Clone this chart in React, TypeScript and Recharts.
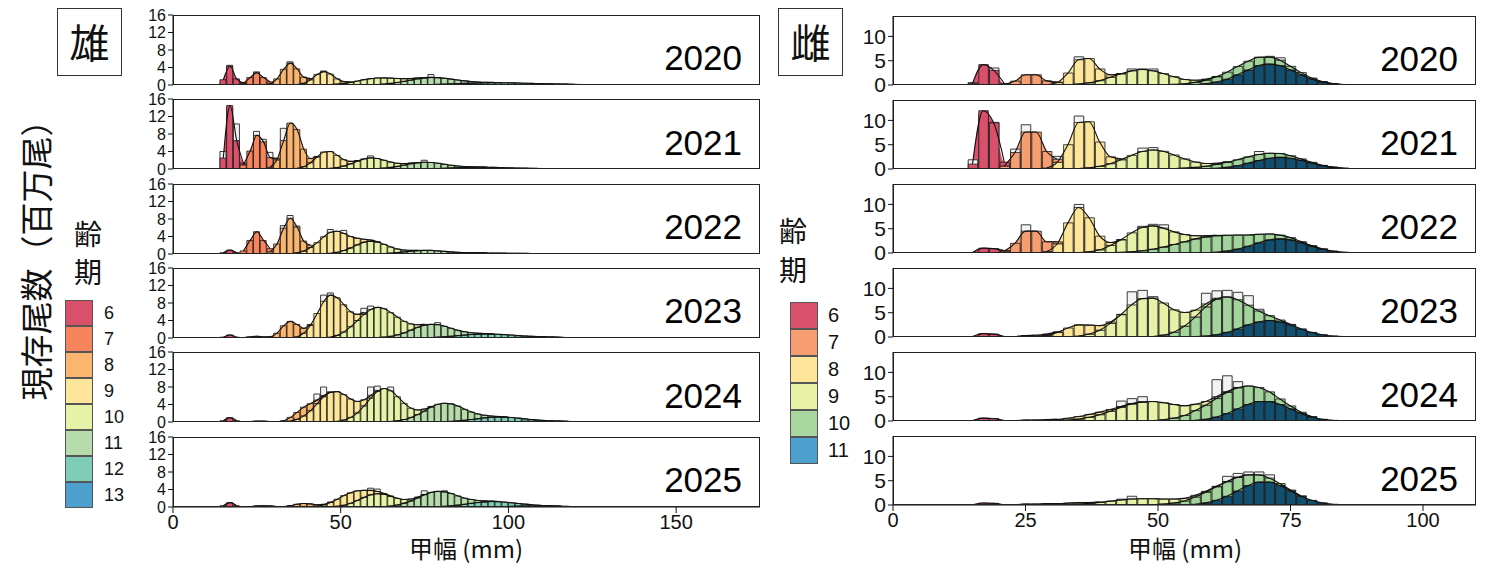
import React from 'react';
import { ComposedChart, Area, Bar, Line, XAxis, YAxis } from 'recharts';

// instar labels + colours (legend) and plot fills
const MALE_INSTARS = ['6', '7', '8', '9', '10', '11', '12', '13'];
const FEMALE_INSTARS = ['6', '7', '8', '9', '10', '11'];
const MALE_COLORS = ['#d9506a', '#f6845c', '#fbb56f', '#fde59a', '#e7f1a7', '#b7dcab', '#80cdb7', '#4d9fce'];
const FEMALE_COLORS = ['#d9506a', '#f69e72', '#fde59a', '#e7f1a7', '#a8d8a0', '#4d9fce'];
const FEMALE_FILLS = ['#d9506a', '#f69e72', '#fde59a', '#e7f1a7', '#a3d49b', '#124e6e'];
const YEARS = ['2020', '2021', '2022', '2023', '2024', '2025'];

const MALE_X_TICKS = [0, 50, 100, 150];
const FEMALE_X_TICKS = [0, 25, 50, 75, 100];
const MALE_Y_TICKS = [0, 4, 8, 12, 16];
const FEMALE_Y_TICKS = [0, 5, 10];

// each component: [first bin centre (mm), counts per 2 mm bin...], instar 6 first
const M2020 = [
  [15, 1.2, 4.3, 1.4, 0.1],
  [21, 0.4, 1.7, 2.8, 1.7, 0.4],
  [29, 0.3, 1.4, 3.6, 5.0, 3.6, 1.4, 0.3],
  [37, 0.1, 0.4, 1.2, 2.4, 3.0, 2.4, 1.2, 0.4, 0.1],
  [43, 0.02, 0.05, 0.1, 0.2, 0.37, 0.6, 0.9, 1.2, 1.4, 1.5, 1.4, 1.2, 0.9, 0.6, 0.37, 0.2, 0.1, 0.05, 0.02],
  [57, 0.03, 0.06, 0.11, 0.22, 0.37, 0.58, 0.83, 1.1, 1.36, 1.54, 1.6, 1.54, 1.36, 1.1, 0.83, 0.58, 0.37, 0.22, 0.11, 0.06, 0.03],
  [67, 0.01, 0.02, 0.03, 0.05, 0.07, 0.1, 0.14, 0.19, 0.25, 0.3, 0.37, 0.42, 0.46, 0.49, 0.5, 0.49, 0.46, 0.42, 0.37, 0.3, 0.25, 0.19, 0.14, 0.1, 0.07, 0.05, 0.03, 0.02, 0.01],
  [89, 0.01, 0.01, 0.02, 0.03, 0.04, 0.06, 0.07, 0.09, 0.11, 0.13, 0.14, 0.15, 0.15, 0.15, 0.14, 0.13, 0.11, 0.09, 0.07, 0.06, 0.05, 0.04, 0.03, 0.02, 0.02, 0.01, 0.01],
];
const M2020_OBS = [[15, 0.6], [17, 4.5], [25, 3.0], [35, 5.3], [45, 3.2], [77, 2.4]];

const M2021 = [
  [15, 2.5, 14.5, 6.5, 0.4],
  [21, 0.95, 4.1, 7.7, 6.2, 2.2, 0.35],
  [29, 0.4, 2.1, 6.5, 10.5, 8.9, 4.0, 0.95, 0.1],
  [37, 0.15, 0.54, 1.44, 2.76, 3.84, 3.84, 2.76, 1.44, 0.54, 0.15],
  [45, 0.05, 0.15, 0.35, 0.7, 1.2, 1.8, 2.3, 2.5, 2.3, 1.8, 1.2, 0.7, 0.35, 0.15, 0.05],
  [57, 0.02, 0.05, 0.1, 0.2, 0.37, 0.6, 0.9, 1.2, 1.4, 1.5, 1.4, 1.2, 0.9, 0.6, 0.37, 0.2, 0.1, 0.05, 0.02],
  [69, 0.01, 0.02, 0.03, 0.05, 0.09, 0.13, 0.18, 0.24, 0.3, 0.35, 0.39, 0.4, 0.39, 0.35, 0.3, 0.24, 0.18, 0.13, 0.09, 0.05, 0.03, 0.02, 0.01],
  [89, 0.01, 0.01, 0.02, 0.03, 0.05, 0.06, 0.07, 0.09, 0.1, 0.1, 0.1, 0.09, 0.07, 0.06, 0.05, 0.04, 0.03, 0.02, 0.02, 0.01, 0.01],
];
const M2021_OBS = [[15, 4.0], [17, 14.0], [19, 10.3], [25, 8.6], [27, 6.8], [29, 3.8], [33, 9.3], [35, 10.4], [59, 3.0], [75, 2.0]];

const M2022 = [
  [15, 0.3, 0.9, 0.3],
  [21, 0.7, 3.1, 5.1, 3.1, 0.7],
  [29, 0.5, 2.3, 5.9, 8.1, 5.9, 2.3, 0.5],
  [35, 0.07, 0.25, 0.66, 1.5, 2.6, 3.9, 4.8, 4.8, 3.9, 2.6, 1.5, 0.66, 0.25, 0.07],
  [45, 0.06, 0.17, 0.4, 0.8, 1.4, 2.1, 2.7, 2.9, 2.7, 2.1, 1.4, 0.8, 0.4, 0.17, 0.06],
  [57, 0.01, 0.02, 0.05, 0.11, 0.2, 0.33, 0.49, 0.64, 0.76, 0.8, 0.76, 0.64, 0.49, 0.33, 0.2, 0.11, 0.05, 0.02, 0.01],
  [69, 0.01, 0.01, 0.02, 0.03, 0.06, 0.08, 0.12, 0.15, 0.19, 0.22, 0.24, 0.25, 0.24, 0.22, 0.19, 0.15, 0.12, 0.08, 0.06, 0.03, 0.02, 0.01, 0.01],
  [95, 0.01, 0.02, 0.04, 0.06, 0.08, 0.08, 0.08, 0.07, 0.06, 0.05, 0.04, 0.03, 0.02, 0.01],
];
const M2022_OBS = [[33, 6.5], [35, 8.8], [37, 6.4], [47, 5.6], [51, 5.4]];

const M2023 = [
  [15, 0.2, 0.7, 0.2],
  [21, 0.1, 0.25, 0.4, 0.25, 0.1],
  [29, 0.2, 1.1, 2.8, 3.8, 2.8, 1.1, 0.2],
  [37, 0.3, 1.1, 2.9, 5.6, 8.4, 9.6, 8.6, 6.2, 3.4, 1.4, 0.4],
  [47, 0.2, 0.6, 1.4, 2.6, 4.0, 5.4, 6.5, 6.9, 6.5, 5.4, 4.0, 2.6, 1.4, 0.6, 0.2],
  [59, 0.03, 0.09, 0.2, 0.4, 0.75, 1.2, 1.8, 2.4, 2.85, 3.0, 2.85, 2.4, 1.8, 1.2, 0.75, 0.4, 0.2, 0.09, 0.03],
  [71, 0.02, 0.04, 0.07, 0.12, 0.2, 0.29, 0.41, 0.55, 0.68, 0.79, 0.87, 0.9, 0.87, 0.79, 0.68, 0.55, 0.41, 0.29, 0.2, 0.12, 0.07, 0.04, 0.02],
  [89, 0.01, 0.02, 0.03, 0.04, 0.06, 0.09, 0.12, 0.15, 0.18, 0.19, 0.2, 0.19, 0.18, 0.15, 0.12, 0.09, 0.07, 0.05, 0.04, 0.03, 0.02, 0.01],
];
const M2023_OBS = [[45, 9.8], [47, 10.3], [49, 9.0], [57, 6.8], [59, 7.3], [79, 3.5]];

const M2024 = [
  [15, 0.3, 1.0, 0.3],
  [23, 0.1, 0.2, 0.2, 0.1],
  [31, 0.06, 0.28, 0.82, 1.6, 2.0, 1.6, 0.82, 0.28, 0.06],
  [35, 0.23, 0.6, 1.4, 2.6, 4.2, 5.8, 6.8, 6.8, 5.8, 4.2, 2.6, 1.4, 0.6, 0.23],
  [49, 0.15, 0.46, 1.06, 2.1, 3.7, 5.5, 7.0, 7.6, 7.0, 5.5, 3.7, 2.1, 1.06, 0.46, 0.15],
  [63, 0.05, 0.13, 0.28, 0.57, 1.05, 1.7, 2.5, 3.4, 4.0, 4.2, 4.0, 3.4, 2.5, 1.7, 1.05, 0.57, 0.28, 0.13, 0.05],
  [77, 0.02, 0.04, 0.08, 0.15, 0.25, 0.4, 0.57, 0.76, 0.94, 1.06, 1.1, 1.06, 0.94, 0.76, 0.57, 0.4, 0.25, 0.15, 0.08, 0.04, 0.02],
  [91, 0.01, 0.02, 0.03, 0.04, 0.06, 0.09, 0.12, 0.15, 0.18, 0.19, 0.2, 0.19, 0.18, 0.15, 0.12, 0.09, 0.07, 0.05, 0.04, 0.03, 0.02, 0.01],
];
const M2024_OBS = [[43, 6.4], [45, 8.0], [59, 8.0], [61, 8.2], [65, 8.0]];

const M2025 = [
  [15, 0.3, 1.0, 0.3],
  [23, 0.1, 0.25, 0.3, 0.25, 0.1],
  [31, 0.02, 0.1, 0.33, 0.64, 0.8, 0.64, 0.33, 0.1, 0.02],
  [41, 0.07, 0.2, 0.5, 1.0, 1.6, 2.2, 2.4, 2.2, 1.6, 1.0, 0.5, 0.2, 0.07],
  [47, 0.06, 0.18, 0.42, 0.84, 1.5, 2.2, 2.8, 3.0, 2.8, 2.2, 1.5, 0.84, 0.42, 0.18, 0.06],
  [61, 0.04, 0.1, 0.23, 0.47, 0.88, 1.4, 2.1, 2.8, 3.3, 3.5, 3.3, 2.8, 2.1, 1.4, 0.88, 0.47, 0.23, 0.1, 0.04],
  [75, 0.02, 0.04, 0.08, 0.16, 0.27, 0.43, 0.62, 0.83, 1.0, 1.15, 1.2, 1.15, 1.0, 0.83, 0.62, 0.43, 0.27, 0.16, 0.08, 0.04, 0.02],
  [89, 0.01, 0.02, 0.03, 0.05, 0.08, 0.11, 0.15, 0.19, 0.22, 0.24, 0.25, 0.24, 0.22, 0.19, 0.15, 0.11, 0.08, 0.06, 0.04, 0.03, 0.02, 0.01],
];
const M2025_OBS = [[59, 4.3], [61, 4.1], [75, 3.7], [81, 3.7]];

const F2020 = [
  [15, 0.3, 4.2, 3.0, 0.2],
  [21, 0.1, 0.8, 2.1, 2.1, 0.8, 0.1],
  [29, 0.05, 0.5, 2.4, 5.0, 5.0, 2.4, 0.5, 0.05],
  [33, 0.06, 0.2, 0.45, 0.9, 1.6, 2.3, 2.9, 3.2, 2.9, 2.3, 1.6, 0.9, 0.45, 0.2, 0.06],
  [49, 0.02, 0.05, 0.12, 0.24, 0.45, 0.74, 1.1, 1.44, 1.7, 1.8, 1.7, 1.44, 1.1, 0.74, 0.45, 0.24, 0.12, 0.05, 0.02],
  [57, 0.09, 0.26, 0.6, 1.2, 2.1, 3.1, 4.0, 4.3, 4.0, 3.1, 2.1, 1.2, 0.6, 0.26, 0.09],
];
const F2020_OBS = [[15, 0.5], [19, 3.5], [35, 5.8], [45, 3.3], [47, 3.3], [49, 3.3], [69, 5.7], [71, 5.9], [73, 5.6]];

const F2021 = [
  [15, 1.0, 12.0, 9.5, 0.8],
  [21, 0.6, 3.4, 7.6, 7.6, 3.4, 0.6],
  [29, 0.2, 1.4, 5.0, 9.5, 9.5, 5.0, 1.4, 0.2],
  [35, 0.08, 0.23, 0.55, 1.1, 1.9, 2.8, 3.6, 3.9, 3.6, 2.8, 1.9, 1.1, 0.55, 0.23, 0.08],
  [49, 0.01, 0.04, 0.09, 0.18, 0.33, 0.53, 0.8, 1.04, 1.24, 1.3, 1.24, 1.04, 0.8, 0.53, 0.33, 0.18, 0.09, 0.04, 0.01],
  [59, 0.05, 0.14, 0.34, 0.67, 1.2, 1.75, 2.2, 2.4, 2.2, 1.75, 1.2, 0.67, 0.34, 0.14, 0.05],
];
const F2021_OBS = [[15, 1.9], [17, 11.3], [19, 9.6], [23, 4.1], [25, 9.1], [31, 2.6], [35, 10.9], [37, 9.5], [47, 4.3], [49, 4.4], [69, 3.6]];

const F2022 = [
  [15, 0.1, 1.0, 0.9, 0.1],
  [21, 0.4, 2.0, 4.5, 4.5, 2.0, 0.4],
  [29, 0.3, 1.9, 6.2, 9.3, 7.0, 2.8, 0.6, 0.05],
  [35, 0.07, 0.25, 0.66, 1.5, 2.6, 3.9, 4.8, 4.8, 3.9, 2.6, 1.5, 0.66, 0.25, 0.07],
  [41, 0.06, 0.12, 0.24, 0.46, 0.78, 1.22, 1.75, 2.3, 2.9, 3.25, 3.4, 3.25, 2.9, 2.3, 1.75, 1.22, 0.78, 0.46, 0.24, 0.12, 0.06],
  [59, 0.06, 0.17, 0.4, 0.8, 1.4, 2.1, 2.7, 2.9, 2.7, 2.1, 1.4, 0.8, 0.4, 0.17, 0.06],
];
const F2022_OBS = [[25, 5.8], [35, 10.0], [37, 6.6], [47, 5.5], [49, 5.9], [51, 5.8]];

const F2023 = [
  [15, 0.1, 0.7, 0.6, 0.1],
  [23, 0.1, 0.3, 0.3, 0.3, 0.1],
  [27, 0.07, 0.3, 0.95, 1.85, 2.3, 1.85, 0.95, 0.3, 0.07],
  [35, 0.2, 0.6, 1.4, 2.8, 4.6, 6.6, 7.9, 7.9, 6.6, 4.6, 2.8, 1.4, 0.6, 0.2],
  [49, 0.1, 0.4, 1.0, 2.25, 4.05, 6.0, 7.3, 7.3, 6.0, 4.05, 2.25, 1.0, 0.4, 0.1],
  [57, 0.07, 0.2, 0.48, 0.95, 1.67, 2.5, 3.1, 3.4, 3.1, 2.5, 1.67, 0.95, 0.48, 0.2, 0.07],
];
const F2023_OBS = [[45, 9.3], [47, 9.6], [49, 8.3], [59, 9.0], [61, 9.5], [63, 9.6], [65, 9.2], [67, 8.5], [69, 5.7]];

const F2024 = [
  [15, 0.1, 0.6, 0.5, 0.1],
  [23, 0.1, 0.2, 0.2, 0.2, 0.1],
  [27, 0.02, 0.08, 0.19, 0.37, 0.53, 0.6, 0.53, 0.37, 0.19, 0.08, 0.02],
  [31, 0.07, 0.18, 0.38, 0.76, 1.3, 2.0, 2.8, 3.5, 3.9, 3.9, 3.5, 2.8, 2.0, 1.3, 0.76, 0.38, 0.18, 0.07],
  [49, 0.1, 0.27, 0.6, 1.14, 2.0, 2.9, 3.8, 4.33, 4.33, 3.8, 2.9, 2.0, 1.14, 0.6, 0.27, 0.1],
  [57, 0.14, 0.36, 0.82, 1.54, 2.5, 3.4, 4.0, 4.0, 3.4, 2.5, 1.54, 0.82, 0.36, 0.14],
];
const F2024_OBS = [[43, 4.1], [45, 4.6], [47, 5.0], [61, 8.5], [63, 9.3], [65, 8.1], [67, 6.9]];

const F2025 = [
  [15, 0.05, 0.4, 0.35, 0.05],
  [23, 0.05, 0.2, 0.2, 0.2, 0.05],
  [29, 0.1, 0.2, 0.3, 0.3, 0.2, 0.1],
  [29, 0.01, 0.04, 0.09, 0.18, 0.33, 0.53, 0.8, 1.04, 1.24, 1.3, 1.24, 1.04, 0.8, 0.53, 0.33, 0.18, 0.09, 0.04, 0.01],
  [49, 0.06, 0.18, 0.42, 0.84, 1.5, 2.2, 2.8, 3.0, 2.8, 2.2, 1.5, 0.84, 0.42, 0.18, 0.06],
  [57, 0.16, 0.43, 0.96, 1.8, 2.9, 4.0, 4.7, 4.7, 4.0, 2.9, 1.8, 0.96, 0.43, 0.16],
];
const F2025_OBS = [[43, 1.2], [45, 1.8], [63, 5.9], [65, 6.5], [67, 6.8], [69, 6.8], [71, 6.2]];

const MALE_COMPS = [M2020, M2021, M2022, M2023, M2024, M2025];
const MALE_OBS = [M2020_OBS, M2021_OBS, M2022_OBS, M2023_OBS, M2024_OBS, M2025_OBS];
const FEMALE_COMPS = [F2020, F2021, F2022, F2023, F2024, F2025];
const FEMALE_OBS = [F2020_OBS, F2021_OBS, F2022_OBS, F2023_OBS, F2024_OBS, F2025_OBS];

const LATIN = '"Liberation Sans", Arial, sans-serif';
const CJK = '"Noto Sans CJK JP", "Noto Sans CJK SC", sans-serif';

// rows per 2 mm bin; higher instars stack at the bottom
function buildRows(comps: number[][], obs: number[][], xEnd: number) {
  const rows: any[] = [];
  for (let x = 15; x <= xEnd; x += 2) {
    const row: any = { x };
    comps.forEach((c, i) => {
      const k = (x - c[0]) / 2;
      row['c' + i] = k >= 0 && k < c.length - 1 ? c[k + 1] : 0;
    });
    let acc = 0;
    for (let i = comps.length - 1; i >= 0; i--) {
      acc += row['c' + i];
      row['t' + i] = row['c' + i] > 0 ? acc : null;
    }
    const o = obs.find((p) => p[0] === x);
    row.obs = o ? o[1] : null;
    rows.push(row);
  }
  return rows;
}

const YW = 50;

function Panel(props: any) {
  const { rows, n, fills, boxLeft, boxTop, boxW, boxH, xMax, xTicks, yMax, yTicks, yFont, year, last } = props;
  const bw = (2 * boxW) / xMax;
  const height = boxH + 10 + (last ? 40 : 10);
  const idx = Array.from({ length: n }, (_, i) => n - 1 - i);
  return (
    <>
      <div style={{ position: 'absolute', left: boxLeft - YW, top: boxTop - 10 }}>
        <ComposedChart
          width={YW + boxW + 10}
          height={height}
          data={rows}
          margin={{ top: 10, right: 10, bottom: 10, left: 0 }}
          barGap={0}
          barCategoryGap={0}
        >
          <XAxis
            xAxisId="main"
            dataKey="x"
            type="number"
            domain={[0, xMax]}
            ticks={xTicks}
            allowDataOverflow
            hide={!last}
            height={30}
            tick={{ fontSize: 20, fill: '#111', fontFamily: LATIN }}
            tickLine={{ stroke: '#111' }}
            axisLine={{ stroke: '#111' }}
            tickSize={6}
          />
          <XAxis xAxisId="obs" dataKey="x" type="number" domain={[0, xMax]} allowDataOverflow hide />
          <YAxis
            type="number"
            domain={[0, yMax]}
            ticks={yTicks}
            allowDataOverflow
            width={YW}
            interval={0}
            tick={{ fontSize: yFont, fill: '#111', fontFamily: LATIN }}
            tickLine={{ stroke: '#111' }}
            axisLine={{ stroke: '#111' }}
            tickSize={5}
            tickMargin={2}
          />
          {idx.map((i) => (
            <Area
              key={'a' + i}
              xAxisId="main"
              type="monotone"
              dataKey={'c' + i}
              stackId="a"
              fill={fills[i]}
              fillOpacity={1}
              stroke="none"
              isAnimationActive={false}
            />
          ))}
          <Bar
            xAxisId="obs"
            dataKey="obs"
            fill="#f3f3f3"
            stroke="#3a3a3a"
            strokeWidth={1}
            barSize={bw}
            isAnimationActive={false}
          />
          {idx.map((i) => (
            <Bar
              key={'b' + i}
              xAxisId="main"
              dataKey={'c' + i}
              stackId="b"
              fill={fills[i]}
              stroke="#1b1b1b"
              strokeWidth={0.8}
              barSize={bw}
              isAnimationActive={false}
            />
          ))}
          {idx.map((i) => (
            <Line
              key={'l' + i}
              xAxisId="main"
              type="monotone"
              dataKey={'t' + i}
              stroke="#111"
              strokeWidth={1.1}
              dot={false}
              activeDot={false}
              connectNulls={false}
              isAnimationActive={false}
            />
          ))}
        </ComposedChart>
      </div>
      <div
        style={{
          position: 'absolute',
          left: boxLeft,
          top: boxTop,
          width: boxW,
          height: boxH,
          border: '1.5px solid #222',
          boxSizing: 'border-box',
          pointerEvents: 'none',
        }}
      />
      <div
        style={{
          position: 'absolute',
          left: boxLeft,
          width: boxW - 18,
          top: boxTop + boxH * 0.82 - 32,
          textAlign: 'right',
          fontFamily: LATIN,
          fontSize: 35,
          lineHeight: '35px',
          color: '#000',
        }}
      >
        {year}
      </div>
    </>
  );
}

function Legend(props: any) {
  const { labels, colors, left, top, h, labelLeft, fontSize } = props;
  return (
    <>
      {labels.map((lab: string, i: number) => (
        <React.Fragment key={lab}>
          <div
            style={{
              position: 'absolute',
              left,
              top: top + i * h,
              width: 28,
              height: h,
              background: colors[i],
              border: '1px solid #555',
              boxSizing: 'border-box',
            }}
          />
          <div
            style={{
              position: 'absolute',
              left: labelLeft,
              top: top + i * h,
              height: h,
              lineHeight: h + 'px',
              fontFamily: LATIN,
              fontSize,
              color: '#111',
            }}
          >
            {lab}
          </div>
        </React.Fragment>
      ))}
    </>
  );
}

function TextAt(props: any) {
  const { x, y, size, children, family } = props;
  return (
    <div
      style={{
        position: 'absolute',
        left: x - 100,
        top: y - size / 2 - 2,
        width: 200,
        textAlign: 'center',
        fontFamily: family || CJK,
        fontSize: size,
        lineHeight: size + 'px',
        color: '#111',
        whiteSpace: 'nowrap',
      }}
    >
      {children}
    </div>
  );
}

export default function App() {
  const maleRows = MALE_COMPS.map((c, i) => buildRows(c, MALE_OBS[i], 145));
  const femaleRows = FEMALE_COMPS.map((c, i) => buildRows(c, FEMALE_OBS[i], 93));
  return (
    <div style={{ position: 'absolute', left: 0, top: 0, width: 1486, height: 569, background: '#fff', overflow: 'hidden' }}>
      {YEARS.map((y, i) => (
        <Panel
          key={'m' + y}
          rows={maleRows[i]}
          n={MALE_INSTARS.length}
          fills={MALE_COLORS}
          boxLeft={173}
          boxTop={15 + 84.3 * i}
          boxW={587}
          boxH={70}
          xMax={175}
          xTicks={MALE_X_TICKS}
          yMax={16}
          yTicks={MALE_Y_TICKS}
          yFont={16}
          year={y}
          last={i === YEARS.length - 1}
        />
      ))}
      {YEARS.map((y, i) => (
        <Panel
          key={'f' + y}
          rows={femaleRows[i]}
          n={FEMALE_INSTARS.length}
          fills={FEMALE_FILLS}
          boxLeft={893}
          boxTop={16 + 84 * i}
          boxW={583}
          boxH={69}
          xMax={110}
          xTicks={FEMALE_X_TICKS}
          yMax={14.2}
          yTicks={FEMALE_Y_TICKS}
          yFont={21}
          year={y}
          last={i === YEARS.length - 1}
        />
      ))}

      {/* male side labels */}
      <div style={{ position: 'absolute', left: 57, top: 8, width: 65, height: 68, border: '1px solid #333', boxSizing: 'border-box', fontFamily: CJK, fontSize: 40, lineHeight: '64px', textAlign: 'center', color: '#111' }}>雄</div>
      <div style={{ position: 'absolute', left: 35 - 170, top: 252 - 18, width: 340, height: 36, transform: 'rotate(-90deg)', textAlign: 'center', fontFamily: CJK, fontSize: 33, lineHeight: '36px', color: '#111', whiteSpace: 'nowrap' }}>現存尾数（百万尾）</div>
      <TextAt x={88} y={235} size={28}>齢</TextAt>
      <TextAt x={88} y={273} size={28}>期</TextAt>
      <Legend labels={MALE_INSTARS} colors={MALE_COLORS} left={65} top={300} h={26} labelLeft={104} fontSize={18} />
      <TextAt x={466} y={550} size={24}>甲幅 (mm)</TextAt>

      {/* female side labels */}
      <div style={{ position: 'absolute', left: 778, top: 8, width: 65, height: 68, border: '1px solid #333', boxSizing: 'border-box', fontFamily: CJK, fontSize: 40, lineHeight: '64px', textAlign: 'center', color: '#111' }}>雌</div>
      <TextAt x={793} y={232} size={28}>齢</TextAt>
      <TextAt x={793} y={271} size={28}>期</TextAt>
      <Legend labels={FEMALE_INSTARS} colors={FEMALE_COLORS} left={790} top={302} h={27} labelLeft={828} fontSize={20} />
      <TextAt x={1185} y={550} size={24}>甲幅 (mm)</TextAt>
    </div>
  );
}
